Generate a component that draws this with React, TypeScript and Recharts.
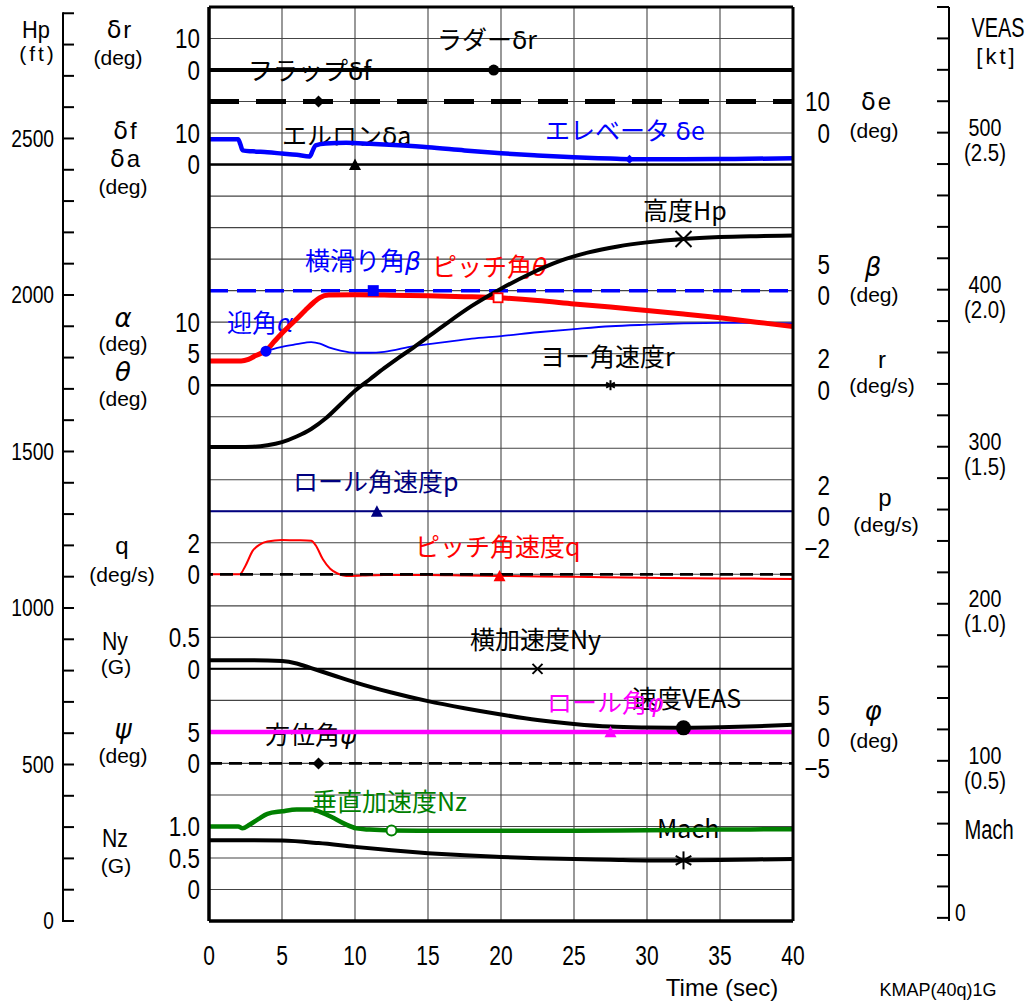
import React from 'react';
import { ComposedChart, Line, XAxis, YAxis, CartesianGrid, ReferenceLine, Customized } from 'recharts';

type Pt = [number, number];
type Shape = 'circle' | 'diamond' | 'triangle' | 'square' | 'openSquare' | 'openCircle' | 'x' | 'star';

const W = 1034;
const H = 1005;
const TOP = 7;
const BOTTOM = 84;
const PLOT_H = H - TOP - BOTTOM;
const ROWS = 29;
const HP_MAX = 2920;

// ---- tick labels ----
const timeTicks = [0, 5, 10, 15, 20, 25, 30, 35, 40];
const rowTicks = [0, 1, 2, 3, 4, 5, 6, 7, 8, 9, 10, 11, 12, 13, 14, 15, 16, 17, 18, 19, 20, 21, 22, 23, 24, 25, 26, 27, 28, 29];
const hpTicks = [0, 100, 200, 300, 400, 500, 600, 700, 800, 900, 1000, 1100, 1200, 1300, 1400, 1500, 1600, 1700, 1800, 1900, 2000, 2100, 2200, 2300, 2400, 2500, 2600, 2700, 2800, 2900];
const hpLabels = [0, 500, 1000, 1500, 2000, 2500];
const veasTicks = [0, 20, 40, 60, 80, 100, 120, 140, 160, 180, 200, 220, 240, 260, 280, 300, 320, 340, 360, 380, 400, 420, 440, 460, 480, 500, 520, 540, 560, 580];
const veasLabels: [number, string][] = [[100, '(0.5)'], [200, '(1.0)'], [300, '(1.5)'], [400, '(2.0)'], [500, '(2.5)']];
const leftScaleLabels: [number, string][] = [
  [1, '10'], [2, '0'], [4, '10'], [5, '0'], [10, '10'], [11, '5'], [12, '0'], [17, '2'], [18, '0'],
  [20, '0.5'], [21, '0'], [23, '5'], [24, '0'], [26, '1.0'], [27, '0.5'], [28, '0'],
];
const rightScaleLabels: [number, string][] = [
  [3, '10'], [4, '0'], [8, '5'], [9, '0'], [11, '2'], [12, '0'], [15, '2'], [16, '0'], [17, '−2'],
  [22, '5'], [23, '0'], [24, '−5'],
];

// ---- series (time s, value) ----
const rudderDr: Pt[] = [[0, 0], [19.5, 0], [40, 0]];
const flapDf: Pt[] = [[0, 20], [7.5, 20], [40, 20]];
const aileronDa: Pt[] = [[0, 0], [10, 0], [40, 0]];
const elevatorDe: Pt[] = [
  [0, -2.0], [2.0, -2.0], [2.15, -3.6], [2.3, -5.5], [3, -5.8], [4, -6.1], [5, -6.5], [6, -6.9], [6.9, -7.4],
  [7.1, -5.6], [7.3, -3.9], [8, -3.3], [9.4, -3.1], [11, -3.4], [13, -3.9], [15, -4.5], [17.5, -5.5],
  [20, -6.4], [22.5, -7.1], [25, -7.7], [27.5, -8.1], [28.8, -8.3], [32.5, -8.3], [36, -8.2], [40, -8.0],
];
const sideslipBeta: Pt[] = [[0, 0], [11.25, 0], [40, 0]];
const pitchTheta: Pt[] = [
  [0, 3.85], [2.2, 3.85], [2.7, 4.1], [3.2, 4.7], [3.9, 5.5], [4.5, 7.0], [5.2, 8.7], [6, 10.5], [6.6, 11.9],
  [7.2, 13.2], [7.6, 13.9], [8.2, 14.3], [10, 14.35], [12, 14.3], [15, 14.2], [17.5, 14.05], [19.8, 13.87],
  [22.5, 13.45], [25, 12.9], [27.5, 12.4], [30, 11.85], [32.5, 11.3], [35, 10.7], [37.5, 10.0], [40, 9.3],
];
const alphaAoa: Pt[] = [
  [0, 3.8], [2.2, 3.8], [3, 4.5], [3.9, 5.4], [5, 6.1], [6, 6.5], [7, 6.85], [7.6, 6.6], [8.2, 6.0], [9, 5.5],
  [10, 5.15], [11, 5.15], [12, 5.3], [14, 6.2], [16, 6.8], [18, 7.4], [20, 7.8], [22.5, 8.4], [25, 8.9],
  [27.5, 9.35], [30, 9.6], [32.5, 9.8], [35, 9.9], [37.5, 9.9], [40, 9.8],
];
const altitudeHp: Pt[] = [
  [0, 1514], [2, 1514], [3, 1515], [4, 1520], [5, 1530], [6, 1548], [7, 1572], [8, 1606], [9, 1650], [10, 1694],
  [11, 1730], [12, 1766], [13, 1800], [14, 1832], [16, 1900], [18, 1965], [20, 2020], [22, 2068], [24, 2108],
  [26, 2136], [28, 2155], [30, 2168], [32.5, 2179], [35, 2185], [37.5, 2188], [40, 2190],
];
const yawRateR: Pt[] = [[0, 0], [27.5, 0], [40, 0]];
const rollRateP: Pt[] = [[0, 0], [11.5, 0], [40, 0]];
const pitchRateQ: Pt[] = [
  [0, 0], [2.1, 0], [2.5, 0.55], [3, 1.5], [3.5, 1.9], [4, 2.08], [5, 2.18], [6, 2.16], [7, 2.13], [7.3, 1.85],
  [7.8, 0.95], [8.3, 0.35], [8.8, 0.05], [9.4, -0.1], [10.5, -0.08], [12, -0.04], [15, -0.04], [17.5, -0.07],
  [19.9, -0.1], [25, -0.16], [30, -0.22], [35, -0.26], [40, -0.29],
];
const lateralNy: Pt[] = [[0, 0], [22.5, 0], [40, 0]];
const speedVeas: Pt[] = [
  [0, 164], [3, 164], [5, 163.5], [6, 162], [7, 159], [8.5, 154.5], [10, 150], [12.5, 143.5], [15, 138],
  [17.5, 133.5], [20, 129.5], [22.5, 126], [25, 123.5], [27.5, 121.8], [30, 121.2], [32.5, 121], [35, 121.3],
  [37.5, 122], [40, 123],
];
const rollPhi: Pt[] = [[0, 0], [27.5, 0], [40, 0]];
const headingPsi: Pt[] = [[0, 0], [7.5, 0], [40, 0]];
const verticalNz: Pt[] = [
  [0, 1.0], [2.0, 1.0], [2.3, 0.97], [2.8, 1.03], [3.4, 1.12], [4, 1.2], [5, 1.24], [6, 1.27], [7.1, 1.27],
  [7.6, 1.23], [8.4, 1.15], [9.3, 1.04], [10.1, 0.97], [11, 0.95], [12.5, 0.935], [15, 0.93], [20, 0.93],
  [25, 0.93], [30, 0.94], [35, 0.95], [40, 0.957],
];
const machNo: Pt[] = [
  [0, 0.247], [3, 0.247], [5, 0.246], [7.5, 0.238], [10, 0.226], [12.5, 0.215], [15, 0.206], [17.5, 0.199],
  [20, 0.194], [22.5, 0.19], [25, 0.187], [27.5, 0.185], [30, 0.183], [32.5, 0.183], [35, 0.184], [37.5, 0.186],
  [40, 0.187],
];

// ---- styling ----
const FONT = '"Liberation Sans", Arial, sans-serif';
const JP = '"Noto Sans CJK JP", sans-serif';
const GREEK = '"DejaVu Sans", sans-serif';
const BLUE = '#0000ff';
const RED = '#ff0000';
const NAVY = '#000080';
const MAGENTA = '#ff00ff';
const GREEN = '#008000';

// each series axis: zero row and units per grid row
const seriesAxes: { id: string; zero: number; per: number }[] = [
  { id: 'dr', zero: 2, per: 10 },
  { id: 'dfa', zero: 5, per: 10 },
  { id: 'de', zero: 4, per: 10 },
  { id: 'beta', zero: 9, per: 5 },
  { id: 'ath', zero: 12, per: 5 },
  { id: 'r', zero: 12, per: 2 },
  { id: 'p', zero: 16, per: 2 },
  { id: 'q', zero: 18, per: 2 },
  { id: 'ny', zero: 21, per: 0.5 },
  { id: 'phi', zero: 23, per: 5 },
  { id: 'psi', zero: 24, per: 5 },
  { id: 'nz', zero: 28, per: 0.5 },
];

interface Series {
  id: string;
  data: Pt[];
  axis: string;
  color: string;
  width: number;
  dash?: string;
  curve: 'linear' | 'monotone';
  marker: { t: number; shape: Shape; size: number };
}

const series: Series[] = [
  { id: 'dr', data: rudderDr, axis: 'dr', color: '#000', width: 4, curve: 'linear', marker: { t: 19.5, shape: 'circle', size: 5.5 } },
  { id: 'df', data: flapDf, axis: 'dfa', color: '#000', width: 5, dash: '30 17', curve: 'linear', marker: { t: 7.5, shape: 'diamond', size: 6 } },
  { id: 'da', data: aileronDa, axis: 'dfa', color: '#000', width: 2.5, curve: 'linear', marker: { t: 10, shape: 'triangle', size: 6 } },
  { id: 'de', data: elevatorDe, axis: 'de', color: BLUE, width: 4.5, curve: 'monotone', marker: { t: 28.8, shape: 'diamond', size: 4.5 } },
  { id: 'beta', data: sideslipBeta, axis: 'beta', color: BLUE, width: 3.5, dash: '19 9', curve: 'linear', marker: { t: 11.25, shape: 'square', size: 5.5 } },
  { id: 'alpha', data: alphaAoa, axis: 'ath', color: BLUE, width: 1.8, curve: 'monotone', marker: { t: 3.9, shape: 'circle', size: 5.5 } },
  { id: 'theta', data: pitchTheta, axis: 'ath', color: RED, width: 5, curve: 'monotone', marker: { t: 19.8, shape: 'openSquare', size: 4.5 } },
  { id: 'r', data: yawRateR, axis: 'r', color: '#000', width: 2.5, curve: 'linear', marker: { t: 27.5, shape: 'star', size: 5 } },
  { id: 'p', data: rollRateP, axis: 'p', color: NAVY, width: 2, curve: 'linear', marker: { t: 11.5, shape: 'triangle', size: 6 } },
  { id: 'q', data: pitchRateQ, axis: 'q', color: RED, width: 2, curve: 'monotone', marker: { t: 19.9, shape: 'triangle', size: 6 } },
  { id: 'ny', data: lateralNy, axis: 'ny', color: '#000', width: 2, curve: 'linear', marker: { t: 22.5, shape: 'x', size: 5 } },
  { id: 'phi', data: rollPhi, axis: 'phi', color: MAGENTA, width: 4.5, curve: 'linear', marker: { t: 27.5, shape: 'triangle', size: 6 } },
  { id: 'psi', data: headingPsi, axis: 'psi', color: '#000', width: 2.7, dash: '13 7', curve: 'linear', marker: { t: 7.5, shape: 'diamond', size: 6 } },
  { id: 'nz', data: verticalNz, axis: 'nz', color: GREEN, width: 4.5, curve: 'monotone', marker: { t: 12.5, shape: 'openCircle', size: 5 } },
  { id: 'hp', data: altitudeHp, axis: 'hp', color: '#000', width: 4, curve: 'monotone', marker: { t: 32.5, shape: 'x', size: 8 } },
  { id: 'veas', data: speedVeas, axis: 'veas', color: '#000', width: 4, curve: 'monotone', marker: { t: 32.5, shape: 'circle', size: 7.5 } },
  { id: 'mach', data: machNo, axis: 'mach', color: '#000', width: 4, curve: 'monotone', marker: { t: 32.5, shape: 'star', size: 9 } },
];

const plotLabels: { x: number; y: number; text: string; color: string }[] = [
  { x: 437, y: 39, text: 'ラダーδr', color: '#000' },
  { x: 248, y: 70, text: 'フラップδf', color: '#000' },
  { x: 282, y: 135, text: 'エルロンδa', color: '#000' },
  { x: 545, y: 130, text: 'エレベータ δe', color: BLUE },
  { x: 643, y: 210, text: '高度Hp', color: '#000' },
  { x: 305, y: 260, text: '横滑り角β', color: BLUE },
  { x: 432, y: 266, text: 'ピッチ角θ', color: RED },
  { x: 227, y: 322, text: '迎角α', color: BLUE },
  { x: 540, y: 356, text: 'ヨー角速度r', color: '#000' },
  { x: 293, y: 481, text: 'ロール角速度p', color: NAVY },
  { x: 415, y: 546, text: 'ピッチ角速度q', color: RED },
  { x: 470, y: 639, text: '横加速度Ny', color: '#000' },
  { x: 632, y: 698, text: '速度VEAS', color: '#000' },
  { x: 547, y: 702, text: 'ロール角φ', color: MAGENTA },
  { x: 265, y: 734, text: '方位角ψ', color: '#000' },
  { x: 312, y: 801, text: '垂直加速度Nz', color: GREEN },
  { x: 657, y: 828, text: 'Mach', color: '#000' },
];

// side texts: text, center x, center y, font size, horizontal scale, letter spacing
const sideTexts: [string, number, number, number, number, number][] = [
  ['Hp', 36, 30, 23, 0.95, 0], ['(ft)', 38, 54, 21, 1, 3],
  ['δr', 120, 30, 24, 1, 2], ['(deg)', 118, 58, 21, 1, 0],
  ['δf', 126, 131, 24, 1, 2], ['δa', 126, 159, 24, 1, 2], ['(deg)', 123, 187, 21, 1, 0],
  ['α', 123, 318, 26, 1, 0], ['(deg)', 123, 344, 21, 1, 0], ['θ', 123, 372, 26, 1, 0], ['(deg)', 123, 399, 21, 1, 0],
  ['q', 122, 546, 24, 1, 0], ['(deg/s)', 122, 575, 21, 1, 0],
  ['Ny', 115, 641, 25, 0.85, 0], ['(G)', 116, 667, 21, 1, 0],
  ['ψ', 123, 729, 26, 1, 0], ['(deg)', 123, 756, 21, 1, 0],
  ['Nz', 115, 838, 25, 0.85, 0], ['(G)', 116, 866, 21, 1, 0],
  ['δe', 877, 102, 24, 1, 2], ['(deg)', 874, 131, 21, 1, 0],
  ['β', 873, 267, 26, 1, 0], ['(deg)', 874, 295, 21, 1, 0],
  ['r', 882, 360, 24, 1, 0], ['(deg/s)', 882, 386, 21, 1, 0],
  ['p', 885, 498, 24, 1, 0], ['(deg/s)', 886, 525, 21, 1, 0],
  ['φ', 873, 711, 26, 1, 0], ['(deg)', 874, 741, 21, 1, 0],
  ['VEAS', 998, 27, 28, 0.71, 0], ['[kt]', 997, 56, 22, 1, 3], ['Mach', 989, 829, 28, 0.72, 0],
  ['Time (sec)', 722, 988, 24, 1, 0], ['KMAP(40q)1G', 938, 990, 18, 1, 0],
];

const isGreek = (c: string) => /[\u0370-\u03ff]/.test(c);

function Rich(props: { x: number; y: number; size: number; text: string; color?: string; anchor?: string; family?: string; sx?: number; lift?: number; ls?: number }) {
  const { x, y, size, text, color = '#000', anchor = 'start', family = FONT, sx = 1, lift = 0.35, ls = 0 } = props;
  const parts: { s: string; g: boolean }[] = [];
  for (const ch of text) {
    const g = isGreek(ch);
    const last = parts[parts.length - 1];
    if (last && last.g === g) last.s += ch;
    else parts.push({ s: ch, g });
  }
  return (
    <text
      transform={`translate(${x},${y + lift * size}) scale(${sx},1)`}
      fontSize={size}
      fill={color}
      textAnchor={anchor}
      fontFamily={family}
      letterSpacing={ls || undefined}
    >
      {parts.map((p, i) =>
        p.g ? (
          <tspan key={i} fontFamily={GREEK} fontStyle={p.s.includes('δ') ? 'normal' : 'italic'}>
            {p.s}
          </tspan>
        ) : (
          <tspan key={i}>{p.s}</tspan>
        )
      )}
    </text>
  );
}

function MarkerShape({ cx, cy, shape, size, color }: { cx: number; cy: number; shape: Shape; size: number; color: string }) {
  const s = size;
  switch (shape) {
    case 'circle':
      return <circle cx={cx} cy={cy} r={s} fill={color} />;
    case 'openCircle':
      return <circle cx={cx} cy={cy} r={s} fill="#fff" stroke={color} strokeWidth={2} />;
    case 'diamond':
      return <polygon points={`${cx},${cy - s} ${cx + s},${cy} ${cx},${cy + s} ${cx - s},${cy}`} fill={color} />;
    case 'triangle':
      return <polygon points={`${cx},${cy - s} ${cx + s},${cy + s * 0.9} ${cx - s},${cy + s * 0.9}`} fill={color} />;
    case 'square':
      return <rect x={cx - s} y={cy - s} width={2 * s} height={2 * s} fill={color} />;
    case 'openSquare':
      return <rect x={cx - s} y={cy - s} width={2 * s} height={2 * s} fill="#fff" stroke={color} strokeWidth={1.8} />;
    case 'x':
      return (
        <g stroke={color} strokeWidth={2}>
          <line x1={cx - s} y1={cy - s} x2={cx + s} y2={cy + s} />
          <line x1={cx - s} y1={cy + s} x2={cx + s} y2={cy - s} />
        </g>
      );
    case 'star':
      return (
        <g stroke={color} strokeWidth={2}>
          <line x1={cx} y1={cy - s} x2={cx} y2={cy + s} />
          <line x1={cx - s * 0.87} y1={cy - s * 0.5} x2={cx + s * 0.87} y2={cy + s * 0.5} />
          <line x1={cx - s * 0.87} y1={cy + s * 0.5} x2={cx + s * 0.87} y2={cy - s * 0.5} />
        </g>
      );
    default:
      return <g />;
  }
}

const markerDot = (s: Series) => (props: any) => {
  const { cx, cy, payload, index } = props;
  if (!payload || payload.t !== s.marker.t) return <g key={`${s.id}-${index}`} />;
  return (
    <g key={`${s.id}-${index}`}>
      <MarkerShape cx={cx} cy={cy} shape={s.marker.shape} size={s.marker.size} color={s.color} />
    </g>
  );
};

const leftMap = new Map(leftScaleLabels);
const rightMap = new Map(rightScaleLabels);
const veasMap = new Map(veasLabels);

const LeftRowTick = (props: any) => {
  const { x, y, payload } = props;
  const label = leftMap.get(payload.value);
  if (!label) return <g />;
  return <Rich x={x - 9} y={y} size={28} sx={0.8} anchor="end" text={label} />;
};

const RightRowTick = (props: any) => {
  const { x, y, payload } = props;
  const label = rightMap.get(payload.value);
  if (!label) return <g />;
  const dy = payload.value <= 4 ? 0 : 5;
  return <Rich x={x + 37} y={y + dy} size={28} sx={0.8} anchor="end" text={label} />;
};

// Hp axis is a mirrored left axis sitting at the plot edge; its scale is drawn 146px further left.
const HP_SHIFT = 146;
const hpStep = (PLOT_H * 100) / HP_MAX;
const HpTick = (props: any) => {
  const { x, y, payload } = props;
  const ax = x - HP_SHIFT;
  return (
    <g>
      <line x1={ax} x2={ax + 11} y1={y} y2={y} stroke="#000" strokeWidth={2} />
      {payload.value < 2900 && <line x1={ax} x2={ax} y1={y + 1} y2={y - hpStep - 1} stroke="#000" strokeWidth={2} />}
      {hpLabels.includes(payload.value) && <Rich x={ax - 9} y={y} size={24} sx={0.8} anchor="end" text={String(payload.value)} />}
    </g>
  );
};

const VeasTick = (props: any) => {
  const { x, y, payload } = props;
  const v = payload.value;
  const mach = veasMap.get(v);
  return (
    <g>
      <line x1={x - 12} x2={x} y1={y} y2={y} stroke="#000" strokeWidth={2} />
      {v === 0 && <Rich x={x + 6} y={y - 5} size={24} sx={0.8} text="0" />}
      {mach && <Rich x={x + 36} y={y - 5} size={24} sx={0.82} anchor="middle" text={String(v)} />}
      {mach && <Rich x={x + 36} y={y + 20} size={24} sx={0.85} anchor="middle" text={mach} />}
    </g>
  );
};

const TimeTick = (props: any) => {
  const { x, y, payload } = props;
  return <Rich x={x} y={y + 34} size={28} sx={0.75} anchor="middle" text={String(payload.value)} />;
};

const Annotations = () => (
  <g>
    {plotLabels.map((l, i) => (
      <Rich key={`pl${i}`} x={l.x} y={l.y} size={25} text={l.text} color={l.color} family={JP} lift={0.38} />
    ))}
    {sideTexts.map(([t, x, y, size, sx, ls], i) => (
      <Rich key={`st${i}`} x={x} y={y} size={size} sx={sx} ls={ls} anchor="middle" text={t} />
    ))}
  </g>
);

const rowDomain = (zero: number, per: number): [number, number] => [(zero - ROWS) * per, zero * per];

export default function App() {
  return (
    <div style={{ position: 'fixed', left: 0, top: 0, width: W, height: H, background: '#fff' }}>
      <ComposedChart width={W} height={H} margin={{ top: TOP, right: 0, bottom: BOTTOM - 50, left: 0 }}>
        <XAxis
          xAxisId="t"
          type="number"
          dataKey="t"
          domain={[0, 40]}
          ticks={timeTicks}
          allowDataOverflow
          height={50}
          axisLine={{ stroke: '#000', strokeWidth: 3.5 }}
          tickLine={false}
          tickSize={0}
          tickMargin={0}
          tick={TimeTick}
        />
        <YAxis
          yAxisId="rows"
          orientation="left"
          width={209}
          domain={[0, ROWS]}
          reversed
          ticks={rowTicks}
          allowDataOverflow
          axisLine={false}
          tickLine={false}
          tickSize={0}
          tickMargin={0}
          tick={LeftRowTick}
          interval={0}
        />
        <YAxis
          yAxisId="hp"
          orientation="left"
          mirror
          domain={[0, HP_MAX]}
          ticks={hpTicks}
          allowDataOverflow
          axisLine={false}
          tickLine={false}
          tickSize={0}
          tickMargin={0}
          tick={HpTick}
          interval={0}
        />
        <YAxis
          yAxisId="rowsR"
          orientation="right"
          width={156}
          domain={[0, ROWS]}
          reversed
          ticks={rowTicks}
          allowDataOverflow
          axisLine={false}
          tickLine={false}
          tickSize={0}
          tickMargin={0}
          tick={RightRowTick}
          interval={0}
        />
        <YAxis
          yAxisId="veas"
          orientation="right"
          width={85}
          domain={[-2, 580]}
          ticks={veasTicks}
          allowDataOverflow
          axisLine={{ stroke: '#000', strokeWidth: 2 }}
          tickLine={false}
          tickSize={0}
          tickMargin={0}
          tick={VeasTick}
          interval={0}
        />
        <YAxis yAxisId="mach" orientation="right" mirror hide domain={[-0.01, 2.9]} allowDataOverflow />
        {seriesAxes.map((a) => (
          <YAxis key={a.id} yAxisId={a.id} orientation="right" mirror hide domain={rowDomain(a.zero, a.per)} allowDataOverflow />
        ))}
        <CartesianGrid xAxisId="t" yAxisId="rows" stroke="#444" strokeWidth={1.1} />
        {series.map((s) => (
          <Line
            key={s.id}
            data={s.data.map(([t, v]) => ({ t, v }))}
            dataKey="v"
            xAxisId="t"
            yAxisId={s.axis}
            type={s.curve}
            stroke={s.color}
            strokeWidth={s.width}
            strokeDasharray={s.dash}
            dot={markerDot(s)}
            activeDot={false}
            isAnimationActive={false}
          />
        ))}
        <ReferenceLine xAxisId="t" yAxisId="q" y={0} stroke="#000" strokeWidth={2.7} strokeDasharray="13 7" />
        <ReferenceLine xAxisId="t" yAxisId="rows" x={0} stroke="#000" strokeWidth={3.5} />
        <ReferenceLine xAxisId="t" yAxisId="rows" x={40} stroke="#000" strokeWidth={3} />
        <ReferenceLine xAxisId="t" yAxisId="rows" y={0} stroke="#000" strokeWidth={3} />
        <Customized component={Annotations} />
      </ComposedChart>
    </div>
  );
}
